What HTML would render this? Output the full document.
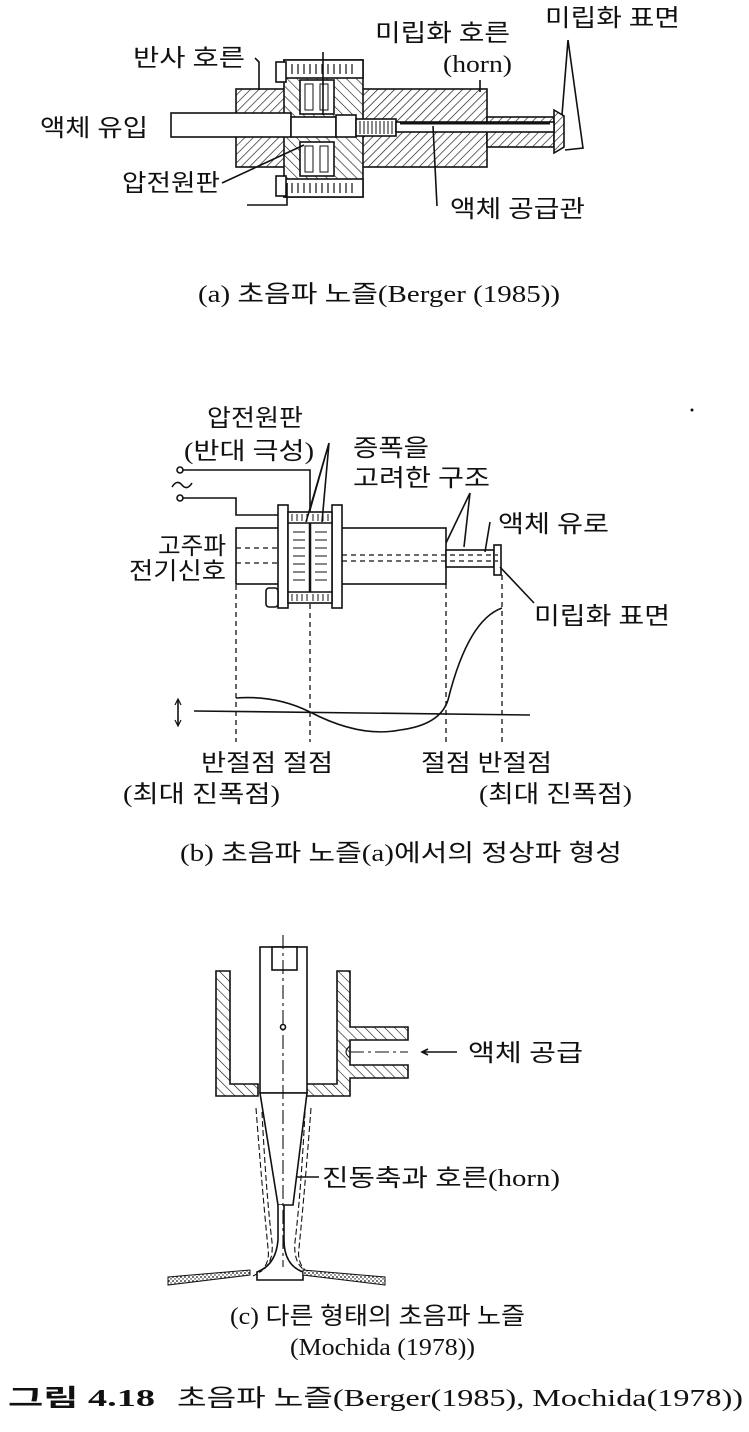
<!DOCTYPE html>
<html><head><meta charset="utf-8"><style>
html,body{margin:0;padding:0;background:#fff;}
svg{display:block;}
text{font-family:"Liberation Serif","Noto Sans CJK KR",serif;fill:#111;}
</style></head><body>
<svg width="749" height="1432" viewBox="0 0 749 1432" xmlns="http://www.w3.org/2000/svg">
<defs>
<pattern id="h" width="6" height="6" patternUnits="userSpaceOnUse" patternTransform="rotate(45)">
<rect width="6" height="6" fill="#fff"/><line x1="0" y1="0" x2="0" y2="6" stroke="#111" stroke-width="1.3"/></pattern>
<pattern id="h2" width="7" height="7" patternUnits="userSpaceOnUse" patternTransform="rotate(-45)">
<rect width="7" height="7" fill="#fff"/><line x1="0" y1="0" x2="0" y2="7" stroke="#111" stroke-width="1.2"/></pattern>
<pattern id="dots" width="4" height="4" patternUnits="userSpaceOnUse"><rect width="4" height="4" fill="#fff"/><circle cx="1" cy="1" r="0.9" fill="#111"/><circle cx="3" cy="3" r="0.7" fill="#111"/></pattern>
</defs>
<g stroke="#111" stroke-width="1.6" fill="none">
<!-- (a) -->
<rect x="236" y="89" width="251" height="78" fill="url(#h)"/>
<rect x="284" y="60" width="79" height="137" fill="url(#h2)"/>
<rect x="284" y="60" width="79" height="18" fill="#fff"/>
<rect x="284" y="179" width="79" height="18" fill="#fff"/>
<g stroke-width="1.2"><path d="M292 64v10M298 64v10M304 64v10M310 64v10M316 64v10M322 64v10M328 64v10M334 64v10M340 64v10M346 64v10M352 64v10"/>
<path d="M292 183v10M298 183v10M304 183v10M310 183v10M316 183v10M322 183v10M328 183v10M334 183v10M340 183v10M346 183v10M352 183v10"/></g>
<rect x="276" y="62" width="10" height="20" fill="#fff"/>
<rect x="276" y="176" width="10" height="20" fill="#fff"/>
<rect x="300" y="80" width="34" height="34" fill="#fff"/>
<rect x="300" y="142" width="34" height="34" fill="#fff"/>
<path d="M305 84h8v26h-8zM320 84h8v26h-8zM305 146h8v26h-8zM320 146h8v26h-8z" stroke-width="1"/>
<line x1="323" y1="52" x2="323" y2="115"/>
<rect x="487" y="117" width="67" height="30" fill="url(#h)"/>
<path d="M554 110l10 6v31l-10 6z" fill="url(#h)"/>
<rect x="171" y="113" width="120" height="24" fill="#fff"/>
<rect x="291" y="117" width="45" height="20" fill="#fff"/>
<rect x="336" y="115" width="20" height="22" fill="#fff"/>
<rect x="356" y="119" width="40" height="17" fill="#fff"/>
<path d="M360 121v13M364 121v13M368 121v13M372 121v13M376 121v13M380 121v13M384 121v13M388 121v13M392 121v13" stroke-width="1"/>
<rect x="396" y="122" width="158" height="10" fill="#fff"/>
<line x1="400" y1="123" x2="550" y2="123" stroke-width="3"/>
<path d="M247 205h40v-22" />
<path d="M255 58l4 4v28M480 80v12M568 40l-6 75M568 40l15 108l-18 2M437 206l-4 -80M222 183l82 -38"/>
<!-- (b) -->
<rect x="236" y="528" width="210" height="56" fill="#fff"/>
<rect x="278" y="505" width="10" height="103" fill="#fff"/>
<rect x="332" y="505" width="10" height="103" fill="#fff"/>
<rect x="288" y="512" width="44" height="91" fill="#fff"/>
<line x1="288" y1="523" x2="332" y2="523"/><line x1="288" y1="592" x2="332" y2="592"/>
<line x1="310" y1="523" x2="310" y2="592" stroke-width="2.5"/>
<rect x="266" y="588" width="12" height="19" rx="3" fill="#fff"/>
<g stroke-width="1"><path d="M292 514v7M297 514v7M302 514v7M307 514v7M313 514v7M318 514v7M323 514v7M328 514v7M292 594v7M297 594v7M302 594v7M307 594v7M313 594v7M318 594v7M323 594v7M328 594v7"/>
<path d="M293 532h12M293 540h12M293 548h12M293 556h12M293 564h12M293 572h12M293 580h12M315 532h12M315 540h12M315 548h12M315 556h12M315 564h12M315 572h12M315 580h12"/></g>
<rect x="446" y="550" width="48" height="17" fill="#fff"/>
<rect x="494" y="545" width="7" height="30" fill="#fff"/>
<g stroke-dasharray="5,4" stroke-width="1.3"><path d="M236 548h42M236 563h42M342 555h156M342 561h156"/>
<path d="M236 585v157M310 604v138M446 584v158M502 575v167"/></g>
<circle cx="180" cy="470" r="3" fill="#fff"/><circle cx="180" cy="498" r="3" fill="#fff"/>
<path d="M183 470h127v42M183 498h53v17h42"/>
<path d="M172 487q5 -8 10 -2t10 -2"/>
<path d="M329 443l-23 79M329 443l-7 79M329 443l-19 67"/>
<path d="M470 493l-24 50M470 493l-6 54M490 522l-5 30M534 603l-34 -36"/>
<line x1="194" y1="711" x2="530" y2="715"/>
<path d="M236 698q40 -3 74 14q50 26 90 18q40 -5 48 -30q20 -80 54 -92"/>
<path d="M178 700v25"/><path d="M175 705l3 -6l3 6M175 720l3 6l3 -6" stroke-width="1.2"/>
<!-- (c) -->
<path d="M216 971h14v113h28v12h-42z" fill="url(#h2)"/>
<path d="M337 971h13v56h58v13h-58v25h58v13h-58v18h-44v-12h31z" fill="url(#h2)"/>
<rect x="260" y="947" width="47" height="146" fill="#fff"/>
<rect x="272" y="947" width="25" height="23" fill="#fff"/>
<path d="M260 1093h47l-14 112h-15z" fill="#fff"/>
<path d="M278 1205v35q-2 25 -21 32v8h46v-8q-19 -7 -19 -32v-35" fill="#fff"/>
<g stroke-dasharray="14,4,3,4" stroke-width="1.1"><path d="M283 935v332M350 1052h58"/></g>
<circle cx="283" cy="1027" r="2.5" fill="#fff"/>
<path d="M350 1046q-8 6 0 12" stroke-width="1.1"/>
<g stroke-dasharray="6,3" stroke-width="1.1"><path d="M256 1108q6 80 12 140q3 20 -15 28M262 1112q4 80 10 130q2 22 -12 30M311 1108q-6 80 -12 140q-3 20 15 28M305 1112q-4 80 -10 130q-2 22 12 30"/></g>
<path d="M457 1052h-35M428 1049l-6 3l6 3"/>
<path d="M297 1177h22"/>
<path d="M168 1277l82 -7l0 5l-82 10z" fill="url(#dots)" stroke-width="1"/>
<path d="M303 1270l82 7l0 8l-82 -10z" fill="url(#dots)" stroke-width="1"/>
</g>
<circle cx="692" cy="410" r="1.5" fill="#111"/>
<g font-size="24" lengthAdjust="spacingAndGlyphs">
<text x="133" y="66" textLength="112" lengthAdjust="spacingAndGlyphs">반사 호른</text>
<text x="375" y="41" textLength="135" lengthAdjust="spacingAndGlyphs">미립화 호른</text>
<text x="443" y="72" textLength="69" lengthAdjust="spacingAndGlyphs">(horn)</text>
<text x="545" y="26" textLength="135" lengthAdjust="spacingAndGlyphs">미립화 표면</text>
<text x="40" y="136" textLength="108" lengthAdjust="spacingAndGlyphs">액체 유입</text>
<text x="122" y="191" textLength="98" lengthAdjust="spacingAndGlyphs">압전원판</text>
<text x="450" y="217" textLength="135" lengthAdjust="spacingAndGlyphs">액체 공급관</text>
<text x="198" y="302" textLength="362" lengthAdjust="spacingAndGlyphs">(a) 초음파 노즐(Berger (1985))</text>
<text x="207" y="426" textLength="96" lengthAdjust="spacingAndGlyphs">압전원판</text>
<text x="184" y="459" textLength="130" lengthAdjust="spacingAndGlyphs">(반대 극성)</text>
<text x="353" y="456" textLength="76" lengthAdjust="spacingAndGlyphs">증폭을</text>
<text x="353" y="486" textLength="137" lengthAdjust="spacingAndGlyphs">고려한 구조</text>
<text x="498" y="532" textLength="111" lengthAdjust="spacingAndGlyphs">액체 유로</text>
<text x="158" y="554" textLength="68" lengthAdjust="spacingAndGlyphs">고주파</text>
<text x="129" y="579" textLength="97" lengthAdjust="spacingAndGlyphs">전기신호</text>
<text x="534" y="624" textLength="136" lengthAdjust="spacingAndGlyphs">미립화 표면</text>
<text x="201" y="771" textLength="132" lengthAdjust="spacingAndGlyphs">반절점 절점</text>
<text x="123" y="802" textLength="157" lengthAdjust="spacingAndGlyphs">(최대 진폭점)</text>
<text x="421" y="771" textLength="131" lengthAdjust="spacingAndGlyphs">절점 반절점</text>
<text x="479" y="802" textLength="153" lengthAdjust="spacingAndGlyphs">(최대 진폭점)</text>
<text x="180" y="861" textLength="442" lengthAdjust="spacingAndGlyphs">(b) 초음파 노즐(a)에서의 정상파 형성</text>
<text x="468" y="1061" textLength="115" lengthAdjust="spacingAndGlyphs">액체 공급</text>
<text x="322" y="1186" textLength="238" lengthAdjust="spacingAndGlyphs">진동축과 호른(horn)</text>
<text x="230" y="1324" textLength="295" lengthAdjust="spacingAndGlyphs">(c) 다른 형태의 초음파 노즐</text>
<text x="290" y="1355" textLength="185" lengthAdjust="spacingAndGlyphs">(Mochida (1978))</text>
<text x="8" y="1406" font-weight="bold" textLength="147" lengthAdjust="spacingAndGlyphs">그림 4.18</text>
<text x="177" y="1406" textLength="566" lengthAdjust="spacingAndGlyphs">초음파 노즐(Berger(1985), Mochida(1978))</text>
</g>
</svg>
</body></html>
